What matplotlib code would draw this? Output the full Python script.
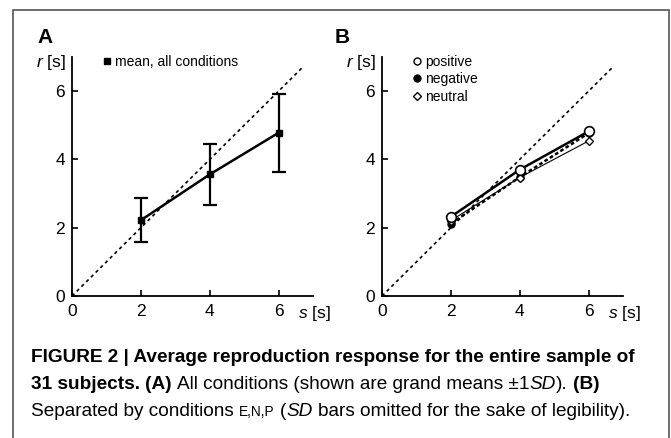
import matplotlib
matplotlib.use("Agg")
import matplotlib.pyplot as plt
from matplotlib.lines import Line2D
from matplotlib.patches import Rectangle
from matplotlib.transforms import blended_transform_factory

# data
ticks = [0, 2, 4, 6]
durations = [2, 4, 6]          # s [s]
mean_all = [2.22, 3.56, 4.78]  # r [s], all conditions
sd_all = [0.65, 0.89, 1.14]
positive = [2.32, 3.70, 4.82]
negative = [2.12, 3.48, 4.77]
neutral = [2.21, 3.47, 4.54]
identity = [0, 6.7]

plt.rcParams['font.family'] = ['Liberation Sans', 'DejaVu Sans']
plt.rcParams['mathtext.fontset'] = 'custom'
plt.rcParams['mathtext.rm'] = 'Liberation Sans'
plt.rcParams['mathtext.it'] = 'Liberation Sans:italic'

W, H = 671, 438
fig = plt.figure(figsize=(W/100, H/100), dpi=100)
axA = fig.add_axes([72/W, 1-296/H, 241/W, 239/H])
axB = fig.add_axes([382/W, 1-296/H, 241/W, 239/H])


def setup(ax):
    ax.set_xlim(0, 7)
    ax.set_ylim(0, 7)
    for sp in ['top', 'right']:
        ax.spines[sp].set_visible(False)
    for sp in ['left', 'bottom']:
        ax.spines[sp].set_linewidth(1.3)
    ax.set_xticks(ticks)
    ax.set_yticks(ticks)
    ax.tick_params(direction='in', length=4, width=1.2, labelsize=12.5)
    ax.tick_params(axis='x', pad=6)
    ax.tick_params(axis='y', pad=5)
    ax.plot(identity, identity, color='black', lw=1.2, ls=(0, (2, 2)))
    ax.text(-0.025, 0.975, '$r$ [s]', transform=ax.transAxes,
            ha='right', va='center', fontsize=12.5)
    tr = blended_transform_factory(ax.transData, ax.transAxes)
    ax.text(6.55, -0.035, '$s$ [s]', transform=tr, ha='left', va='top',
            fontsize=12.5)


setup(axA)
setup(axB)

# panel A
axA.errorbar(durations, mean_all, yerr=sd_all, fmt='-s', color='black',
             lw=1.8, ms=5, capsize=4.8, elinewidth=1.6, capthick=1.6)
hA = [Line2D([], [], marker='s', ms=4, ls='none', color='black')]
axA.legend(hA, ['mean, all conditions'], loc='upper left',
           bbox_to_anchor=(0.122, 1.01), frameon=False, fontsize=10,
           handlelength=0.8, handletextpad=0.2, borderpad=0, borderaxespad=0)

# panel B
axB.plot(durations, negative, color='black', lw=1.8, ls=(0, (1.5, 1)),
         marker='o', ms=5, zorder=3)
axB.plot(durations, neutral, color='black', lw=0.8, marker='D', ms=4.5,
         mfc='white', mew=1, zorder=3)
axB.plot(durations, positive, color='black', lw=1.8, marker='o', ms=7,
         mfc='white', mew=1.2, zorder=4)
hB = [Line2D([], [], marker='o', ms=5, ls='none', color='black', mfc='white', mew=1),
      Line2D([], [], marker='o', ms=5, ls='none', color='black'),
      Line2D([], [], marker='D', ms=4, ls='none', color='black', mfc='white', mew=1)]
axB.legend(hB, ['positive', 'negative', 'neutral'], loc='upper left',
           bbox_to_anchor=(0.122, 1.01), frameon=False, fontsize=10,
           handlelength=0.8, handletextpad=0.2, borderpad=0, borderaxespad=0,
           labelspacing=0.25)

# panel letters
fig.text(37/W, 1-43/H, 'A', fontsize=15, fontweight='bold', va='baseline')
fig.text(335/W, 1-43/H, 'B', fontsize=15, fontweight='bold', va='baseline')

# frame
fig.patches.append(Rectangle((13/W, -0.05), (669-13)/W, 1.05-10/H,
                             transform=fig.transFigure, fill=False,
                             ec='#555555', lw=1.2))

# caption, drawn piece by piece
cap_font = ['Liberation Sans Narrow', 'Liberation Sans', 'DejaVu Sans']
cs = 13.7
renderer = fig.canvas.get_renderer()


def width_of(s, **kw):
    t = fig.text(0, 0, s, **kw)
    w = t.get_window_extent(renderer).width
    t.remove()
    return w


space = width_of('a a', family=cap_font, fontsize=cs) - width_of('aa', family=cap_font, fontsize=cs)


def caption_line(y, pieces):
    x = 31
    for s, kw in pieces:
        if s == ' ':
            x += space
            continue
        props = dict(family=cap_font, fontsize=cs)
        props.update(kw)
        t = fig.text(x/W, 1-y/H, s, va='baseline', ha='left', **props)
        x += t.get_window_extent(renderer).width


B = dict(fontweight='bold')
I = dict(style='italic')
N = dict()
caption_line(362, [('FIGURE 2 | Average reproduction response for the entire sample of', B)])
caption_line(389, [('31 subjects.', B), (' ', N), ('(A)', B), (' ', N),
                   ('All conditions (shown are grand means \u00b11', N),
                   ('SD', I), (').', N), (' ', N), ('(B)', B)])
caption_line(416, [('Separated by conditions', N), (' ', N),
                   ('E,N,P', dict(fontsize=cs*0.72)), (' ', N), ('(', N),
                   ('SD', I), (' ', N),
                   ('bars omitted for the sake of legibility).', N)])

fig.savefig('out.png', dpi=100)
